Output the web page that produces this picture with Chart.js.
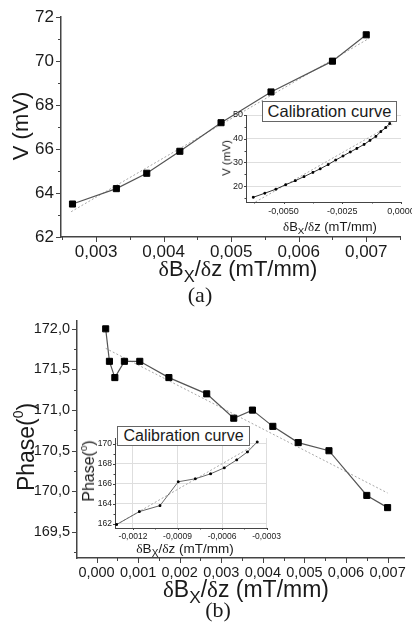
<!DOCTYPE html>
<html>
<head>
<meta charset="utf-8">
<script src="https://cdn.jsdelivr.net/npm/chart.js@4.4.1/dist/chart.umd.min.js"></script>
<style>
    html, body { margin: 0; padding: 0; background: #fff; }
    body { position: relative; width: 412px; height: 622px; overflow: hidden; font-family: "Liberation Sans", Arial, sans-serif; color: #1a1a1a; }
    canvas, .t, .box { position: absolute; }
    .t { white-space: nowrap; line-height: 1; }
    .rot { transform: translate(-50%, -50%) rotate(-90deg); }
    .hz { transform: translate(-50%, 0); }
    .d { font-family: "Liberation Serif", serif; }
    .lab { font-family: "Liberation Serif", serif; font-size: 22px; }
    sub { font-size: 75%; vertical-align: -0.35em; line-height: 0; }
    sup { font-size: 60%; vertical-align: 0.75em; line-height: 0; }
    .box { border: 1px solid #666; background: #fff; text-align: center; white-space: nowrap; }
</style>
</head>
<body>

<canvas id="chart_a" width="412" height="262" style="left:0;top:0"></canvas>
<canvas id="chart_b" width="412" height="278" style="left:0;top:305px"></canvas>
<canvas id="inset_a" width="230" height="122" style="left:215px;top:95px"></canvas>
<canvas id="inset_b" width="200" height="120" style="left:85px;top:425px"></canvas>

<div class="t rot" style="left:21px;top:126px;font-size:22px">V (mV)</div>
<div class="t hz" style="left:238px;top:258px;font-size:22px"><span class="d">δ</span>B<sub>X</sub>/<span class="d">δ</span>z (mT/mm)</div>
<div class="t hz lab" style="left:200px;top:284px">(a)</div>

<div class="t rot" style="left:26px;top:447px;font-size:23px">Phase(<sup>0</sup>)</div>
<div class="t hz" style="left:246px;top:578px;font-size:23px"><span class="d">δ</span>B<sub>X</sub>/<span class="d">δ</span>z (mT/mm)</div>
<div class="t hz lab" style="left:218px;top:599px">(b)</div>

<div class="t rot" style="left:227px;top:158px;font-size:11.5px">V (mV)</div>
<div class="t hz" style="left:330px;top:220px;font-size:13px"><span class="d">δ</span>B<sub>X</sub>/<span class="d">δ</span>z (mT/mm)</div>
<div class="box" style="left:262px;top:101px;width:133px;height:19px;line-height:19px;font-size:16.5px">Calibration curve</div>

<div class="t rot" style="left:89px;top:471px;font-size:16px">Phase(<sup>0</sup>)</div>
<div class="t hz" style="left:185px;top:542px;font-size:13.5px"><span class="d">δ</span>B<sub>X</sub>/<span class="d">δ</span>z (mT/mm)</div>
<div class="box" style="left:117px;top:426px;width:131px;height:18px;line-height:18px;font-size:16px">Calibration curve</div>

<script>
// (a) V versus gradient
var aX = [0.00265, 0.0033, 0.00375, 0.00424, 0.00485, 0.00559, 0.0065, 0.0070];
var aY = [63.5, 64.2, 64.9, 65.9, 67.2, 68.6, 70.0, 71.2];
var aFitX = [0.00263, 0.00705];
var aFitY = [63.15, 71.05];
var aTicksX = [0.003, 0.004, 0.005, 0.006, 0.007];
var aLabelsX = ["0,003", "0,004", "0,005", "0,006", "0,007"];
var aMinorX = [0.0025, 0.0035, 0.0045, 0.0055, 0.0065, 0.0075];
var aTicksY = [62, 64, 66, 68, 70, 72];
var aLabelsY = ["62", "64", "66", "68", "70", "72"];
var aMinorY = [63, 65, 67, 69, 71];

// (a) inset: calibration curve
var iaX = [-0.00629, -0.0058, -0.00533, -0.00491, -0.0045, -0.00413, -0.00375, -0.00344, -0.0031, -0.00278, -0.00247, -0.00216, -0.00188, -0.00157, -0.00132, -0.00107, -0.00086, -0.00065, -0.00048];
var iaY = [15.3, 17.0, 18.7, 20.6, 22.3, 24.0, 25.8, 27.3, 29.1, 31.0, 32.7, 34.4, 35.9, 37.6, 39.3, 41.0, 43.0, 44.7, 46.4];
var iaFitX = [-0.0062, -0.00037];
var iaFitY = [13.3, 46.1];
var iaTicksX = [-0.005, -0.0025, 0];
var iaLabelsX = ["-0,0050", "-0,0025", "0,0000"];
var iaMinorX = [-0.00625, -0.00375, -0.00125];
var iaTicksY = [20, 30, 40, 50];
var iaLabelsY = ["20", "30", "40", "50"];
var iaMinorY = [15, 25, 35, 45];

// (b) phase versus gradient
var bX = [0.00022, 0.00031, 0.00044, 0.00067, 0.00104, 0.00174, 0.00265, 0.0033, 0.00375, 0.00424, 0.00485, 0.00559, 0.0065, 0.0070];
var bY = [172.0, 171.6, 171.4, 171.6, 171.6, 171.4, 171.2, 170.9, 171.0, 170.8, 170.6, 170.5, 169.95, 169.8];
var bFitX = [0.00022, 0.0070];
var bFitY = [171.76, 169.98];
var bTicksX = [0, 0.001, 0.002, 0.003, 0.004, 0.005, 0.006, 0.007];
var bLabelsX = ["0,000", "0,001", "0,002", "0,003", "0,004", "0,005", "0,006", "0,007"];
var bMinorX = [0.0005, 0.0015, 0.0025, 0.0035, 0.0045, 0.0055, 0.0065];
var bTicksY = [169.5, 170.0, 170.5, 171.0, 171.5, 172.0];
var bLabelsY = ["169,5", "170,0", "170,5", "171,0", "171,5", "172,0"];
var bMinorY = [169.25, 169.75, 170.25, 170.75, 171.25, 171.75];

// (b) inset: calibration curve
var ibX = [-0.00131, -0.001157, -0.001018, -0.000895, -0.00078, -0.000677, -0.000585, -0.000501, -0.000429, -0.000363];
var ibY = [161.9, 163.2, 163.8, 166.2, 166.5, 167.0, 167.6, 168.4, 169.2, 170.2];
var ibFitX = [-0.00131, -0.00038];
var ibFitY = [161.9, 169.9];
var ibTicksX = [-0.0012, -0.0009, -0.0006, -0.0003];
var ibLabelsX = ["-0,0012", "-0,0009", "-0,0006", "-0,0003"];
var ibMinorX = [-0.00105, -0.00075, -0.00045];
var ibTicksY = [162, 164, 166, 168, 170];
var ibLabelsY = ["162", "164", "166", "168", "170"];
var ibMinorY = [163, 165, 167, 169];

function points(xs, ys) {
    return xs.map(function (x, i) {
        return { x: x, y: ys[i] };
    });
}

// outward tick marks, long on labelled values and short in between
function tickMarks(spec) {
    return {
        id: "tickMarks",
        afterDraw: function (chart) {
            var ctx = chart.ctx;
            var area = chart.chartArea;
            ctx.save();
            ctx.strokeStyle = "#444";
            ctx.lineWidth = 1;
            ["x", "y"].forEach(function (id) {
                var scale = chart.scales[id];
                var mark = function (v, len) {
                    var p = Math.round(scale.getPixelForValue(v)) + 0.5;
                    ctx.beginPath();
                    if (id === "x") {
                        ctx.moveTo(p, area.bottom);
                        ctx.lineTo(p, area.bottom + len);
                    } else {
                        ctx.moveTo(area.left, p);
                        ctx.lineTo(area.left - len, p);
                    }
                    ctx.stroke();
                };
                spec[id].major.forEach(function (v) { mark(v, spec.len); });
                spec[id].minor.forEach(function (v) { mark(v, spec.minorLen); });
            });
            ctx.restore();
        },
    };
}

function axis(o) {
    return {
        type: "linear",
        min: o.min,
        max: o.max,
        afterBuildTicks: function (scale) {
            scale.ticks = o.ticks.map(function (v) {
                return { value: v };
            });
        },
        afterFit: function (scale) {
            if (scale.isHorizontal()) {
                scale.height = o.fit;
            } else {
                scale.width = o.fit;
            }
        },
        ticks: {
            autoSkip: false,
            maxRotation: 0,
            padding: o.pad,
            color: "#1a1a1a",
            font: { family: "'Liberation Sans', Arial, sans-serif", size: o.font },
            callback: function (value, index) {
                return o.labels[index];
            },
        },
        grid: o.grid
            ? { color: "#dedede", lineWidth: 1, drawTicks: false }
            : { display: false, drawTicks: false },
        border: { display: true, color: "#444", width: o.border },
    };
}

function plot(id, d) {
    new Chart(document.getElementById(id), {
        type: "scatter",
        data: {
            datasets: [
                {
                    data: points(d.x, d.y),
                    showLine: true,
                    borderColor: d.lineColor,
                    borderWidth: d.lineWidth,
                    pointStyle: "rect",
                    pointRadius: d.pointRadius,
                    pointBackgroundColor: "#000",
                    pointBorderColor: "#000",
                    pointBorderWidth: 1,
                },
                {
                    data: points(d.fitX, d.fitY),
                    showLine: true,
                    borderColor: "#a8a8a8",
                    borderWidth: 1,
                    borderDash: [2, 2],
                    pointRadius: 0,
                },
            ],
        },
        options: {
            responsive: false,
            animation: false,
            layout: { padding: d.padding },
            plugins: {
                legend: { display: false },
                tooltip: { enabled: false },
            },
            scales: {
                x: axis(d.sx),
                y: axis(d.sy),
            },
        },
        plugins: [tickMarks(d.marks)],
    });
}

plot("chart_a", {
    x: aX, y: aY, fitX: aFitX, fitY: aFitY,
    lineColor: "#555", lineWidth: 1.2, pointRadius: 4.3,
    padding: { top: 16, right: 12, left: 0, bottom: 0 },
    sx: { min: 0.00248, max: 0.0075, ticks: aTicksX, labels: aLabelsX, fit: 25, pad: 5, font: 17, border: 1.5 },
    sy: { min: 62, max: 72, ticks: aTicksY, labels: aLabelsY, fit: 61, pad: 7, font: 17, border: 1.5 },
    marks: { len: 5, minorLen: 3, x: { major: aTicksX, minor: aMinorX }, y: { major: aTicksY, minor: aMinorY } },
});

plot("chart_b", {
    x: bX, y: bY, fitX: bFitX, fitY: bFitY,
    lineColor: "#555", lineWidth: 1.2, pointRadius: 4.3,
    padding: { top: 15, right: 4, left: 0, bottom: 0 },
    sx: { min: -0.00047, max: 0.0074, ticks: bTicksX, labels: bLabelsX, fit: 25, pad: 6, font: 14.5, border: 1.5 },
    sy: { min: 169.18, max: 172.1, ticks: bTicksY, labels: bLabelsY, fit: 77, pad: 7, font: 14.5, border: 1.5 },
    marks: { len: 5, minorLen: 3, x: { major: bTicksX, minor: bMinorX }, y: { major: bTicksY, minor: bMinorY } },
});

plot("inset_a", {
    x: iaX, y: iaY, fitX: iaFitX, fitY: iaFitY,
    lineColor: "#333", lineWidth: 1, pointRadius: 1.2,
    padding: { top: 20, right: 44, left: 0, bottom: 0 },
    sx: { min: -0.0066, max: 0, ticks: iaTicksX, labels: iaLabelsX, fit: 15, pad: 4, font: 9, border: 1 },
    sy: { min: 13.3, max: 50, ticks: iaTicksY, labels: iaLabelsY, fit: 31, pad: 3, font: 9, border: 1, grid: true },
    marks: { len: 2, minorLen: 1.5, x: { major: iaTicksX, minor: iaMinorX }, y: { major: iaTicksY, minor: iaMinorY } },
});

plot("inset_b", {
    x: ibX, y: ibY, fitX: ibFitX, fitY: ibFitY,
    lineColor: "#666", lineWidth: 1, pointRadius: 1.2,
    padding: { top: 13, right: 15, left: 0, bottom: 0 },
    sx: { min: -0.001321, max: -0.0003, ticks: ibTicksX, labels: ibLabelsX, fit: 17, pad: 4, font: 8.5, border: 1, grid: true },
    sy: { min: 161.55, max: 170.6, ticks: ibTicksY, labels: ibLabelsY, fit: 30, pad: 3, font: 8.5, border: 1, grid: true },
    marks: { len: 2, minorLen: 1.5, x: { major: ibTicksX, minor: ibMinorX }, y: { major: ibTicksY, minor: ibMinorY } },
});
</script>
</body>
</html>
